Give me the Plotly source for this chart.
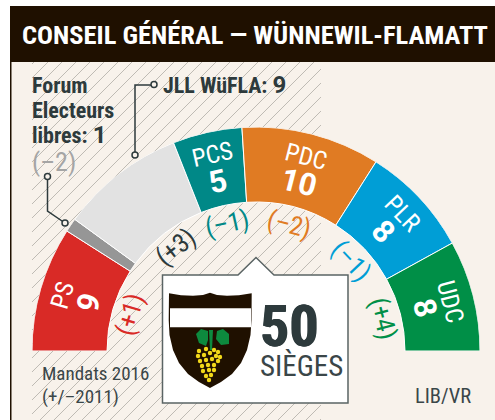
import plotly.graph_objects as go
import math

W, H = 495, 420
parties = ["PS", "Forum", "JLL WüFLA", "PCS", "PDC", "PLR", "UDC"]
seats = [9, 1, 9, 5, 10, 8, 8]
changes = ["(+1)", "(–2)", "(+3)", "(–1)", "(–2)", "(–1)", "(+4)"]
colors = ["#d92a26", "#969696", "#e2e2e2", "#008887", "#e07b23", "#009ed6", "#008f47"]
change_colors = ["#d92a26", "#a5a5a5", "#2d3a3c", "#008887", "#e07b23", "#009ed6", "#008f47"]
title = "CONSEIL GÉNÉRAL — WÜNNEWIL-FLAMATT"
total = 50
cx, cy, r_out, r_in = 256, 351, 224, 149

NARROW = "Roboto Condensed"
DARK = "#2d3a3c"
CREAM = "#f8f2eb"
px = lambda x: x / W
py = lambda y: 1 - y / H

# angular positions, from the seats
step = 180 / total
thetas, cum = [], 0
for s in seats:
    thetas.append((cum + s / 2) * step)
    cum += s

fig = go.Figure(go.Barpolar(
    r=[r_out - r_in] * len(seats), base=[r_in] * len(seats),
    theta=thetas, width=[s * step for s in seats],
    marker=dict(color=colors, line=dict(color="white", width=1)),
    hoverinfo="skip", showlegend=False))

shapes = []
def rect(x0, y0, x1, y1, fill, line=None, lw=0, layer="below"):
    shapes.append(dict(type="rect", xref="paper", yref="paper", layer=layer,
                       x0=px(x0), x1=px(x1), y0=py(y0), y1=py(y1), fillcolor=fill,
                       line=dict(color=line or fill, width=lw)))
def path(pts, fill=None, line=None, lw=0, layer="above", close=True):
    d = "M" + " L".join(f"{px(x):.5f},{py(y):.5f}" for x, y in pts) + (" Z" if close else "")
    shapes.append(dict(type="path", xref="paper", yref="paper", layer=layer, path=d,
                       fillcolor=fill if fill else "rgba(0,0,0,0)",
                       line=dict(color=line if line else "rgba(0,0,0,0)", width=lw)))
def circle(x, y, r, fill, line=None, lw=0, layer="above"):
    shapes.append(dict(type="circle", xref="paper", yref="paper", layer=layer,
                       x0=px(x - r), x1=px(x + r), y0=py(y + r), y1=py(y - r), fillcolor=fill,
                       line=dict(color=line or fill, width=lw)))

# panel + hatching
rect(11, 62, W, H, CREAM)
hx0, hx1, hy0, hy1 = 32, 321, 62, 420
segs = []
c = hx0 + hy0 + 2
while c < hx1 + hy1:
    x_a = max(hx0, c - hy1); x_b = min(hx1, c - hy0)
    segs.append(f"M{px(x_a):.5f},{py(c - x_a):.5f} L{px(x_b):.5f},{py(c - x_b):.5f}")
    c += 14
shapes.append(dict(type="path", xref="paper", yref="paper", layer="below", path=" ".join(segs),
                   line=dict(color="#bfbbb4", width=1)))
rect(10, 6, W, 62, "#1f1000")
rect(10, 6, 11.5, H, "#1f1000")

# leaders
path([(153, 85), (135, 85), (135, 155)], line=DARK, lw=1.5, close=False)
circle(154, 84.5, 3, CREAM, DARK, 1.5)
circle(135, 155, 3, CREAM, DARK, 1.5)
path([(47.5, 177), (47.5, 211), (65, 223)], line=DARK, lw=1.5, close=False)
circle(47.5, 176.5, 3, CREAM, DARK, 1.5)
circle(65, 223, 3, CREAM, DARK, 1.5)

# info box
path([(162.5, 275), (238, 275), (256, 257.5), (274, 275), (348, 275), (348, 403), (162.5, 403)],
     fill="white", line="#5a6464", lw=1.5)

# shield
path([(169, 293.3), (181, 295.2), (193, 295.7), (203, 295), (210, 292.7), (217, 295), (227, 295.7),
      (239, 295.2), (251.7, 293.3), (251.5, 320), (250.5, 335), (247, 350), (241, 363), (232, 374),
      (221, 382), (210, 388), (199, 382), (188, 374), (179, 363), (173, 350), (169.5, 335), (168.7, 320)],
     fill="#1f1000")
rect(170, 308.3, 251, 327.3, "white", layer="above")
path([(196, 334), (201, 329), (208, 331), (208, 340), (206, 346), (199, 343)], fill="#0d8a3e")
path([(217, 331), (223, 329), (229, 334), (229, 344), (221, 345), (216, 339)], fill="#0d8a3e")
path([(209, 330), (213, 330), (212, 350), (210, 350)], fill="#0d8a3e")
grapes = [(199, 351), (206, 349), (214, 350), (218, 352), (198, 356), (204, 355), (210, 353), (216, 356),
          (220, 357), (200, 361), (206, 360), (212, 359), (218, 361), (202, 366), (208, 365), (214, 365),
          (203, 371), (209, 370), (214, 370), (206, 376), (211, 375), (209, 380)]
for gx, gy in grapes:
    circle(gx, gy, 2.2, "#f2d81a")

ann = []
def text(x, y, s, size, color=DARK, anchor="left", angle=0, family=NARROW, shadow=None):
    f = dict(family=family, size=size, color=color)
    if shadow:
        f["shadow"] = shadow
    if anchor == "left":
        x -= 2
    ann.append(dict(xref="paper", yref="paper", x=px(x), y=py(y), text=s, showarrow=False,
                    xanchor=anchor, yanchor="middle", textangle=angle, font=f))

text(22, 34, f"<b>{title}</b>", 26.5, "white")
num = "font-family:Roboto;font-size:24px"
text(32, 86, "<b>Forum</b>", 22)
text(32, 111, "<b>Electeurs</b>", 22)
text(32, 135, f'<b>libres: </b><b><span style="{num}">{seats[1]}</span></b>', 22)
text(32, 162, changes[1], 26, change_colors[1])
text(163, 85, f'<b>JLL WüFLA: </b><b><span style="{num}">{seats[2]}</span></b>', 22)

for i, (p, s) in enumerate(zip(parties, seats)):
    a = math.radians(thetas[i])
    rot = thetas[i] - 90
    ux, uy = -math.cos(a), -math.sin(a)
    if p not in ("Forum", "JLL WüFLA"):
        text(cx + 201 * ux, cy + 201 * uy, p, 25, "white", "center", rot, "Roboto Condensed")
        text(cx + 174 * ux, cy + 174 * uy, f"<b>{s}</b>", 31, "white", "center", rot, "Roboto")
    if p != "Forum":
        text(cx + 131 * ux, cy + 131 * uy, changes[i], 26, change_colors[i], "center", rot,
             shadow=f"0 0 3px {CREAM}")

text(260, 326, f"<b>{total}</b>", 58, DARK, family=NARROW,
     shadow=f"0.6px 0 {DARK}, -0.6px 0 {DARK}")
text(260, 366, "SIÈGES", 29, "#3a4648")
text(42, 373, "Mandats 2016", 19, "#3a4648")
text(42, 396, "(+/–2011)", 19, "#3a4648")
text(415, 396, "LIB/VR", 20.5, "#3a4648")

fig.update_layout(
    width=W, height=H, margin=dict(l=0, r=0, t=0, b=0), paper_bgcolor="white", plot_bgcolor="rgba(0,0,0,0)",
    showlegend=False, shapes=shapes, annotations=ann,
    polar=dict(
        domain=dict(x=[px(cx - r_out), px(cx + r_out)], y=[py(cy), py(cy - r_out)]),
        sector=[0, 180], bgcolor="rgba(0,0,0,0)",
        radialaxis=dict(range=[0, r_out], visible=False),
        angularaxis=dict(rotation=180, direction="clockwise", visible=False),
    ),
)
fig.write_html("out.html", config=dict(displayModeBar=False),
               post_script="document.body.style.margin='0';")
